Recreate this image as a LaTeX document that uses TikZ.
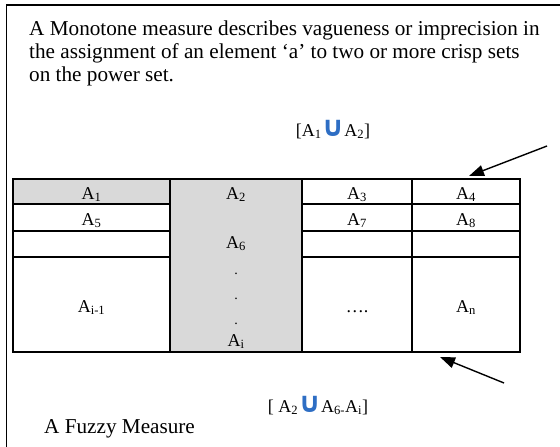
\documentclass[tikz,border=0pt]{standalone}
\usepackage{fontspec}
\setmainfont{Liberation Serif}
\newfontfamily\symfont{DejaVu Sans}
\usetikzlibrary{arrows.meta}
\definecolor{cellgray}{RGB}{217,217,217}
\definecolor{unionblue}{RGB}{46,110,196}
\newcommand{\myunion}{{\fontsize{28}{28}\selectfont\symfont\bfseries\color{unionblue}∪}}
\tikzset{
  para/.style={anchor=base west, inner sep=0pt, font=\fontsize{21.2}{23}\selectfont},
  cell/.style={anchor=base, inner sep=0pt, font=\fontsize{18}{20}\selectfont},
  grid/.style={line width=1.3pt, black},
  frame/.style={line width=1.2pt, black},
  pointer/.style={line width=1.4pt, -{Triangle[length=15pt,width=11pt]}}
}
\begin{document}
\begin{tikzpicture}[x=1pt,y=-1pt]
\useasboundingbox (0,0) rectangle (560,447);
% frame
\draw[frame] (6.5,447) -- (6.5,5) -- (560,5);
% paragraph
\node[para] (p1) at (29,35.7) {A Monotone measure describes vagueness or imprecision in};
\node[para] (p2) at (29,58.7) {the assignment of an element ‘a’ to two or more crisp sets};
\node[para] (p3) at (29,81.7) {on the power set.};
% table fills
\fill[cellgray] (13,179) rectangle (170,204);
\fill[cellgray] (170,179) rectangle (302,352);
% table lines
\draw[grid] (13,179) rectangle (520,352);
\draw[grid] (170,179) -- (170,352);
\draw[grid] (302,179) -- (302,352);
\draw[grid] (412,179) -- (412,352);
\draw[grid] (13,204) -- (170,204);
\draw[grid] (13,231) -- (170,231);
\draw[grid] (13,257) -- (170,257);
\draw[grid] (302,204) -- (520,204);
\draw[grid] (302,231) -- (520,231);
\draw[grid] (302,257) -- (520,257);
% cell texts
\node[cell] (a1) at (91.5,199) {A\textsubscript{1}};
\node[cell] (a2) at (236,199) {A\textsubscript{2}};
\node[cell] (a3) at (357,199) {A\textsubscript{3}};
\node[cell] (a4) at (466,199) {A\textsubscript{4}};
\node[cell] (a5) at (91.5,225) {A\textsubscript{5}};
\node[cell] (a7) at (357,225) {A\textsubscript{7}};
\node[cell] (a8) at (466,225) {A\textsubscript{8}};
\node[cell] (a6) at (236,248) {A\textsubscript{6}};
\node[cell, font=\fontsize{14}{14}\selectfont] (d1) at (236,274) {.};
\node[cell, font=\fontsize{14}{14}\selectfont] (d2) at (236,299) {.};
\node[cell, font=\fontsize{14}{14}\selectfont] (d3) at (236,324) {.};
\node[cell] (ai) at (236,346) {A\textsubscript{i}};
\node[cell] (aim) at (91.5,312) {A\textsubscript{i-1}};
\node[cell] (dots) at (357,312) {….};
\node[cell] (an) at (466,312) {A\textsubscript{n}};
% labels
\node[cell] (u1) at (333,136) {[A\textsubscript{1}\myunion A\textsubscript{2}]};
\node[cell] (u2) at (318,412) {[ A\textsubscript{2}\myunion A\textsubscript{6-}A\textsubscript{i}]};
\node[para] (fz) at (44,433) {A Fuzzy Measure};
% arrows
\coordinate (t1) at (547,146);
\coordinate (h1) at (469,176);
\coordinate (t2) at (504,383);
\coordinate (h2) at (440,357);
\draw[pointer] (t1) -- (h1);
\draw[pointer] (t2) -- (h2);
\end{tikzpicture}
\end{document}
